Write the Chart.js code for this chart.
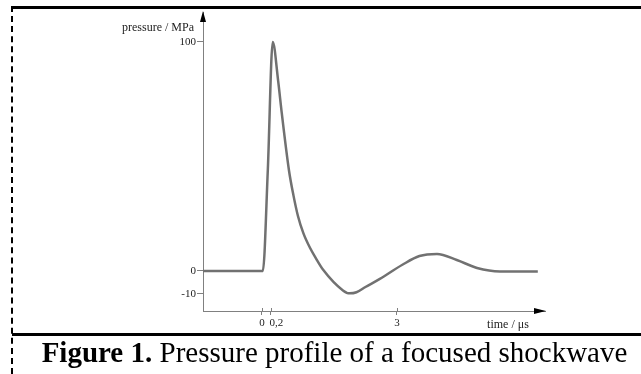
<!DOCTYPE html>
<html>
<head>
<meta charset="utf-8">
<script src="https://cdn.jsdelivr.net/npm/chart.js@4.4.1/dist/chart.umd.min.js"></script>
<style>
body { margin:0; background:#fff; }
#wrap { position:relative; width:641px; height:374px; overflow:hidden; }
#chart { position:absolute; left:0; top:0; }
#topline { position:absolute; left:12px; top:6px; width:629px; height:0; border-top:3px solid #000; }
#leftline { position:absolute; left:11px; top:6px; width:0; height:368px; border-left:2px dashed #000; }
#sepline { position:absolute; left:12px; top:333px; width:629px; height:0; border-top:3px solid #000; }
#caption { position:absolute; left:20px; top:336px; width:629px; text-align:center; white-space:nowrap;
  font-family:"Liberation Serif", serif; font-size:29px; line-height:32px; color:#000; }
</style>
</head>
<body>
<div id="wrap">
<canvas id="chart" width="641" height="334"></canvas>
<div id="topline"></div>
<div id="leftline"></div>
<div id="sepline"></div>
<div id="caption"><b>Figure 1.</b> Pressure profile of a focused shockwave</div>
</div>
<script>
// time in microseconds, pressure in MPa
var timeValues = [-1.31, 0.02, 0.13, 0.24, 0.36, 0.44, 0.6, 0.7, 0.8, 0.92, 1.07, 1.2, 1.36, 1.8, 1.95, 2.1, 2.3, 2.62, 3.13, 3.5, 3.89, 4.33, 4.78, 5.29, 6.13];
var pressureValues = [0, 0, 44, 100, 83, 69, 44, 33, 24, 16.5, 10, 5.5, 0.5, -8.5, -9.8, -9.3, -7, -3.5, 2.8, 6.5, 7.4, 4.8, 1.3, -0.2, -0.2];

var xTicks = [0, 0.2, 3];
var xTickLabels = ["0", "\u2007\u20070,2", "3"];
var yTicks = [-10, 0, 100];
var yTickLabels = ["-10", "0", "100"];

var points = [];
for (var i = 0; i < timeValues.length; i++) {
    points.push({x: timeValues[i], y: pressureValues[i]});
}

var axisColor = '#808080';

var arrowsPlugin = {
    id: 'arrows',
    afterDraw: function (chart) {
        var ctx = chart.ctx;
        var a = chart.chartArea;
        ctx.save();
        // little tick marks above the x axis too
        ctx.strokeStyle = axisColor;
        ctx.lineWidth = 1;
        xTicks.forEach(function (v) {
            var px = Math.round(chart.scales.x.getPixelForValue(v)) + 0.5;
            ctx.beginPath();
            ctx.moveTo(px, a.bottom);
            ctx.lineTo(px, a.bottom - 3);
            ctx.stroke();
        });
        ctx.fillStyle = '#000';
        // y arrow
        ctx.beginPath();
        ctx.moveTo(a.left, a.top - 1);
        ctx.lineTo(a.left - 3, a.top + 10);
        ctx.lineTo(a.left + 3, a.top + 10);
        ctx.closePath();
        ctx.fill();
        // x arrow
        ctx.beginPath();
        ctx.moveTo(a.right + 1, a.bottom);
        ctx.lineTo(a.right - 11, a.bottom - 3);
        ctx.lineTo(a.right - 11, a.bottom + 3);
        ctx.closePath();
        ctx.fill();
        // axis titles
        ctx.fillStyle = '#222';
        ctx.font = '12px "Liberation Serif"';
        ctx.textAlign = 'right';
        ctx.textBaseline = 'middle';
        ctx.fillText('pressure / MPa', a.left - 9, a.top + 16);
        ctx.textAlign = 'center';
        ctx.fillText('time / \u03bcs', a.right - 37, a.bottom + 14);
        ctx.restore();
    }
};

var ctx = document.getElementById('chart').getContext('2d');
var chart = new Chart(ctx, {
    type: 'line',
    data: {
        datasets: [{
            data: points,
            borderColor: '#717171',
            borderWidth: 2.5,
            pointRadius: 0,
            fill: false,
            cubicInterpolationMode: 'monotone'
        }]
    },
    options: {
        responsive: false,
        animation: false,
        layout: { padding: { left: 0, top: 12, right: 96, bottom: 0 } },
        plugins: { legend: { display: false }, tooltip: { enabled: false } },
        scales: {
            x: {
                type: 'linear',
                min: -1.31,
                max: 6.29,
                afterFit: function (scale) { scale.height = 23; },
                afterBuildTicks: function (scale) {
                    scale.ticks = xTicks.map(function (v) { return {value: v}; });
                },
                ticks: {
                    autoSkip: false,
                    maxRotation: 0,
                    padding: 2,
                    color: '#222',
                    font: { family: 'Liberation Serif', size: 11 },
                    callback: function (v) { return xTickLabels[xTicks.indexOf(v)]; }
                },
                grid: { drawOnChartArea: false, drawTicks: true, tickLength: 4, color: axisColor },
                border: { display: true, color: axisColor, width: 1 }
            },
            y: {
                min: -17.5,
                max: 113.1,
                afterFit: function (scale) { scale.width = 203; },
                afterBuildTicks: function (scale) {
                    scale.ticks = yTicks.map(function (v) { return {value: v}; });
                },
                ticks: {
                    autoSkip: false,
                    padding: 1,
                    color: '#222',
                    font: { family: 'Liberation Serif', size: 11 },
                    callback: function (v) { return yTickLabels[yTicks.indexOf(v)]; }
                },
                grid: { drawOnChartArea: false, drawTicks: true, tickLength: 6, color: axisColor },
                border: { display: true, color: axisColor, width: 1 }
            }
        }
    },
    plugins: [arrowsPlugin]
});
</script>
</body>
</html>
